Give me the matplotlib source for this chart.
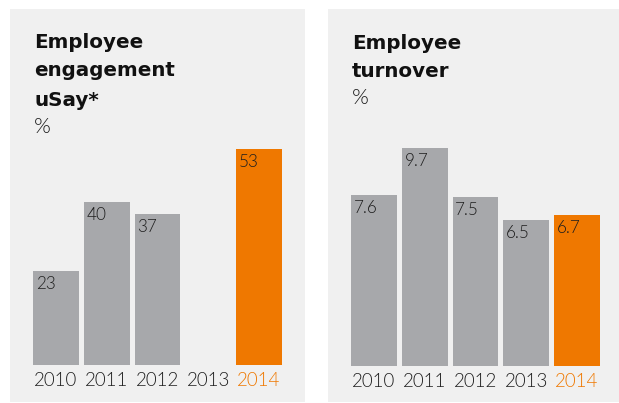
import numpy as np
import matplotlib
matplotlib.use("Agg")
import matplotlib.pyplot as plt
from matplotlib.patches import Rectangle

# --- data -------------------------------------------------------------
years = ["2010", "2011", "2012", "2013", "2014"]
engagement = [23, 40, 37, np.nan, 53]          # no survey in 2013
turnover = [7.6, 9.7, 7.5, 6.5, 6.7]
engagement_title = ["Employee", "engagement", "uSay*"]
turnover_title = ["Employee", "turnover"]
unit_label = "%"

# --- style ------------------------------------------------------------
W, H = 619, 403
BG = "#f0f0f0"
GREY = "#a7a8ab"
ORANGE = "#ef7800"
DARK = "#1e1e1e"
TITLE_FONT = "DejaVu Sans"
NUM_FONT = "Lato"
NUM_WEIGHT = 300

fig = plt.figure(figsize=(W / 100, H / 100), dpi=100)
fig.patch.set_facecolor("white")


def fx(x):
    return x / W


def fy(y):
    return 1 - y / H


def panel(x0, x1, y0, y1):
    fig.patches.append(Rectangle((fx(x0), fy(y1)), fx(x1) - fx(x0), fy(y0) - fy(y1),
                                 transform=fig.transFigure, facecolor=BG,
                                 edgecolor="none", zorder=-10))


def bar_axes(x0, x1, y_top, y_bottom, values, vmax, fmt):
    ax = fig.add_axes([fx(x0), fy(y_bottom), fx(x1) - fx(x0), fy(y_top) - fy(y_bottom)])
    ax.set_zorder(5)
    ax.set_facecolor("none")
    n = len(values)
    width = 0.906
    xs = np.arange(n)
    colors = [GREY] * (n - 1) + [ORANGE]
    for i, v in enumerate(values):
        if np.isnan(v):
            continue
        ax.bar(xs[i], v, width=width, color=colors[i], linewidth=0)
        ax.annotate(fmt(v), xy=(xs[i] - width / 2, v), xytext=(2.0, -13.0),
                    textcoords="offset points", ha="left", va="baseline",
                    fontsize=12.3, family=NUM_FONT, fontweight=NUM_WEIGHT, color=DARK)
    for i, yr in enumerate(years):
        ax.annotate(yr, xy=(xs[i], 0), xycoords=("data", "data"),
                    xytext=(0, -15.3), textcoords="offset points",
                    ha="center", va="baseline", fontsize=13.5, family=NUM_FONT,
                    fontweight=NUM_WEIGHT, color=ORANGE if i == n - 1 else DARK,
                    annotation_clip=False)
    ax.set_xlim(-width / 2, n - 1 + width / 2)
    ax.set_ylim(0, vmax)
    ax.axis("off")
    return ax


def titles(x, lines, baselines, unit_y):
    for line, yb in zip(lines, baselines):
        fig.text(fx(x), fy(yb), line, ha="left", va="baseline", fontsize=14.3,
                 family=TITLE_FONT, fontweight="bold", color="#111111")
    fig.text(fx(x), fy(unit_y), unit_label, ha="left", va="baseline", fontsize=15.5,
             family=NUM_FONT, fontweight=NUM_WEIGHT, color=DARK)


# left panel: engagement
panel(10, 305, 9, 402)
bar_axes(33, 282, 149, 365, engagement, 53, lambda v: f"{v:.0f}")
titles(34, engagement_title, [48.5, 76.5, 105.5], 133)

# right panel: turnover
panel(328, 619, 9, 402)
bar_axes(351, 600, 148, 366, turnover, 9.7, lambda v: f"{v:.1f}")
titles(352, turnover_title, [49, 77], 104.5)

fig.savefig("out.png", dpi=100, facecolor="white")
